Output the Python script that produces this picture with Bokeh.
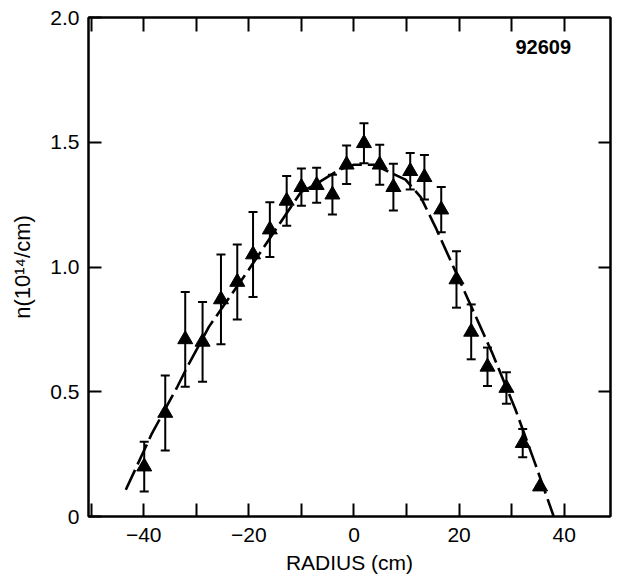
from bokeh.plotting import figure
from bokeh.models import (FixedTicker, LinearAxis, Whisker, ColumnDataSource,
                          Label, TeeHead, Range1d)
from bokeh.embed import file_html
from bokeh.resources import INLINE

# Measured density points (radius in cm, n in 1e14/cm, error half-width)
radius = [-39.9, -35.9, -32.1, -28.8, -25.3, -22.2, -19.2, -16.0, -12.8, -10.0,
          -7.1, -4.1, -1.4, 1.9, 4.9, 7.5, 10.7, 13.4, 16.6, 19.5,
          22.3, 25.4, 29.0, 32.1, 35.4]
density = [0.20, 0.415, 0.71, 0.70, 0.87, 0.94, 1.05, 1.15, 1.265, 1.32,
           1.328, 1.29, 1.41, 1.496, 1.41, 1.32, 1.384, 1.36, 1.23, 0.95,
           0.74, 0.60, 0.515, 0.294, 0.12]
error = [0.10, 0.15, 0.19, 0.16, 0.18, 0.15, 0.17, 0.11, 0.10, 0.075,
         0.07, 0.08, 0.077, 0.08, 0.08, 0.094, 0.073, 0.089, 0.091, 0.113,
         0.11, 0.077, 0.063, 0.057, 0.0]

# Fitted (dashed) profile
fit_r = [-43.4, -38.5, -33.6, -31.7, -27.6, -20.0, -10.1, -7.0, -2.8, 0.0,
         3.8, 9.8, 12.7, 15.5, 18.5, 21.6, 26.3, 30.7, 34.5, 38.0]
fit_n = [0.107, 0.33, 0.52, 0.60, 0.76, 0.99, 1.30, 1.335, 1.39, 1.41,
         1.41, 1.35, 1.28, 1.16, 1.02, 0.875, 0.655, 0.43, 0.21, 0.0]

x_major = [-40, -20, 0, 20, 40]
x_minor = [-50, -30, -10, 10, 30, 50]
x_all = [-50, -40, -30, -20, -10, 0, 10, 20, 30, 40, 50]
y_major = [0, 0.5, 1.0, 1.5, 2.0]
y_labels = {0: "0", 0.5: "0.5", 1: "1.0", 1.5: "1.5", 2: "2.0"}
shot_label = "92609"

FONT = "Liberation Sans"

p = figure(frame_width=522, frame_height=499,
           x_range=Range1d(-50.5, 48.8), y_range=Range1d(0, 2.0),
           output_backend="svg", toolbar_location=None,
           min_border_left=88, min_border_right=4, min_border_top=17,
           min_border_bottom=52)
p.background_fill_color = "white"
p.border_fill_color = "white"
p.outline_line_color = "black"
p.outline_line_width = 2
p.xgrid.visible = False
p.ygrid.visible = False

# bottom axis
xa = p.xaxis[0]
xa.ticker = FixedTicker(ticks=x_major, minor_ticks=x_minor)
xa.major_tick_in = 13
xa.major_tick_out = 0
xa.minor_tick_in = 13
xa.minor_tick_out = 0
xa.major_tick_line_width = 2
xa.minor_tick_line_width = 2
xa.axis_line_width = 2
xa.major_label_text_font = FONT
xa.major_label_text_font_size = "21px"
xa.major_label_text_color = "black"
xa.major_label_standoff = 11
xa.axis_label = "RADIUS (cm)"
xa.axis_label_text_font = FONT
xa.axis_label_text_font_size = "21px"
xa.axis_label_text_font_style = "normal"
xa.axis_label_text_color = "black"
xa.axis_label_standoff = 6

# left axis
ya = p.yaxis[0]
ya.ticker = FixedTicker(ticks=y_major, minor_ticks=[])
ya.major_label_overrides = y_labels
ya.major_tick_in = 13
ya.major_tick_out = 0
ya.minor_tick_in = 0
ya.minor_tick_out = 0
ya.major_tick_line_width = 2
ya.axis_line_width = 2
ya.major_label_text_font = FONT
ya.major_label_text_font_size = "21px"
ya.major_label_text_color = "black"
ya.major_label_standoff = 9
ya.axis_label = "n(10\u00b9\u2074/cm)"
ya.axis_label_text_font = FONT
ya.axis_label_text_font_size = "22px"
ya.axis_label_text_font_style = "normal"
ya.axis_label_text_color = "black"
ya.axis_label_standoff = 12

# top axis (ticks only)
top = LinearAxis(ticker=FixedTicker(ticks=x_all, minor_ticks=[]),
                 major_tick_in=14, major_tick_out=0, minor_tick_in=0,
                 minor_tick_out=0, major_tick_line_width=2,
                 axis_line_width=2, major_label_text_font_size="0px")
top.major_label_text_alpha = 0
p.add_layout(top, "above")

# right axis (ticks only)
right = LinearAxis(ticker=FixedTicker(ticks=[0.5, 1.0, 1.5], minor_ticks=[]),
                   major_tick_in=12, major_tick_out=0, minor_tick_in=0,
                   minor_tick_out=0, major_tick_line_width=2,
                   axis_line_width=2, major_label_text_font_size="0px")
right.major_label_text_alpha = 0
p.add_layout(right, "right")

# fitted dashed curve
p.line(fit_r, fit_n, line_color="black", line_width=2.6, line_dash="22 6")

# error bars
upper = [d + e for d, e in zip(density, error)]
lower = [d - e for d, e in zip(density, error)]
src = ColumnDataSource(dict(x=radius, y=density, upper=upper, lower=lower))
w = Whisker(source=src, base="x", upper="upper", lower="lower",
            line_color="black", line_width=2,
            upper_head=TeeHead(size=9, line_color="black", line_width=2),
            lower_head=TeeHead(size=9, line_color="black", line_width=2))
p.add_layout(w)

# triangles
p.scatter("x", "y", source=src, marker="triangle", size=15,
          fill_color="black", line_color="black", line_width=1)

# shot number
p.add_layout(Label(x=36.0, y=1.88, text=shot_label, text_font=FONT,
                   text_font_size="20px", text_font_style="bold",
                   text_align="center", text_baseline="middle",
                   text_color="black"))

open("out.html", "w").write(file_html(p, INLINE))
